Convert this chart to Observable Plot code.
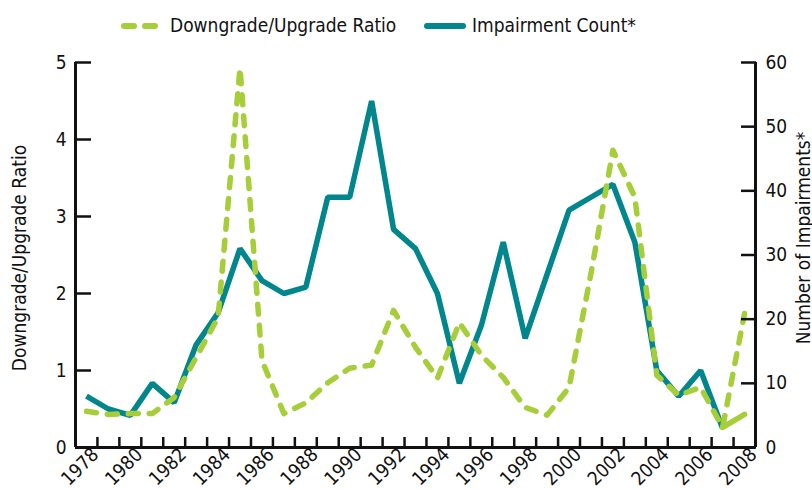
<!DOCTYPE html>
<html>
<head>
<meta charset="utf-8">
<script src="https://cdn.jsdelivr.net/npm/d3@7"></script>
<script src="https://cdn.jsdelivr.net/npm/@observablehq/plot@0.6"></script>
<style>
  body { margin: 0; background: #fff; }
  #wrap { position: relative; width: 812px; height: 489px; font-family: "DejaVu Sans Condensed", "Liberation Sans Narrow", sans-serif; color: #111; }
  #legend { position: relative; height: 45px; font-size: 19px; }
  #legend .txt { position: absolute; top: 12px; line-height: 26px; white-space: nowrap; }
  #legend svg { position: absolute; top: 20px; }
</style>
</head>
<body>
<div id="wrap">
  <div id="legend">
    <svg style="left:120px" width="44" height="12"><line x1="4" x2="40" y1="6" y2="6" stroke="#a6ce39" stroke-width="6" stroke-linecap="round" stroke-dasharray="10,11"/></svg>
    <span class="txt" style="left:170px">Downgrade/Upgrade Ratio</span>
    <svg style="left:423px" width="44" height="12"><line x1="4" x2="40" y1="6" y2="6" stroke="#00868c" stroke-width="6" stroke-linecap="round"/></svg>
    <span class="txt" style="left:472px">Impairment Count*</span>
  </div>
  <div id="chart"></div>
</div>
<script>
// ---- data ----
const years = [1978,1979,1980,1981,1982,1983,1984,1985,1986,1987,1988,1989,1990,1991,1992,1993,1994,1995,1996,1997,1998,1999,2000,2001,2002,2003,2004,2005,2006,2007,2008];
const ratio = [0.47,0.43,0.44,0.44,0.65,1.17,1.69,4.93,1.13,0.44,0.58,0.84,1.03,1.07,1.78,1.30,0.90,1.62,1.20,0.91,0.52,0.42,0.78,2.26,3.86,3.25,0.94,0.68,0.78,0.26,1.74];
const impairments = [8,6,5,10,7,16,21,31,26,24,25,39,39,54,34,31,24,10,19,32,17,27,37,39,41,32,12,8,12,3,null];
const ratioTailYears = [2007, 2008];
const ratioTail = [0.26, 0.43];
const ratioTicks = [0,1,2,3,4,5];
const countTicks = [0,10,20,30,40,50,60];
const yearLabels = ["1978","1980","1982","1984","1986","1988","1990","1992","1994","1996","1998","2000","2002","2004","2006","2008"];
const leftTitle = "Downgrade/Upgrade Ratio";
const rightTitle = "Number of Impairments*";

// ---- derived ----
const ratioMax = ratioTicks[ratioTicks.length - 1];
const countMax = countTicks[countTicks.length - 1];
const k = ratioMax / countMax; // maps counts onto the ratio scale
const boundaries = years.slice(1).map(y => y - 0.5);
const ratioData = years.map((y, i) => ({year: y, v: ratio[i]}));
const countData = years.map((y, i) => ({year: y, v: impairments[i] == null ? NaN : impairments[i] * k}));
const tailData = ratioTailYears.map((y, i) => ({year: y, v: ratioTail[i]}));

const GREEN = "#a6ce39", TEAL = "#00868c", INK = "#111";
const FONT = '"DejaVu Sans Condensed", "Liberation Sans Narrow", sans-serif';
const FS = 19;

const chart = Plot.plot({
  width: 812,
  height: 444,
  marginTop: 17,
  marginBottom: 42,
  marginLeft: 75,
  marginRight: 57,
  x: {type: "linear", domain: [years[0] - 0.5, years[years.length - 1] + 0.5], axis: null},
  y: {domain: [0, ratioMax], axis: null},
  style: {fontFamily: FONT, fontSize: FS + "px", color: INK, background: "#fff", overflow: "visible"},
  marks: [
    // data lines
    Plot.line(countData, {x: "year", y: "v", stroke: TEAL, strokeWidth: 5.5, strokeLinejoin: "miter", strokeLinecap: "butt"}),
    Plot.line(ratioData, {x: "year", y: "v", stroke: GREEN, strokeWidth: 5.5, strokeDasharray: "10,11", strokeLinecap: "round", strokeLinejoin: "round"}),
    Plot.line(tailData, {x: "year", y: "v", stroke: GREEN, strokeWidth: 5.5, strokeLinecap: "round"}),
    // left axis ticks (inward) and labels
    Plot.axisY(ratioTicks, {anchor: "left", tickSize: -16, strokeWidth: 2.5, tickFormat: () => "", label: null}),
    Plot.axisY(ratioTicks, {anchor: "left", tickSize: 0, tickPadding: 9, tickFormat: d => String(d), label: null, fontSize: FS}),
    // right axis (impairment counts)
    Plot.axisY(countTicks.map(c => c * k), {anchor: "right", tickSize: -15, strokeWidth: 2.5, tickFormat: () => "", label: null}),
    Plot.axisY(countTicks.map(c => c * k), {anchor: "right", tickSize: 0, tickPadding: 10, tickFormat: d => String(Math.round(d / k)), label: null, fontSize: FS}),
    // bottom ticks between categories (inward)
    Plot.axisX(boundaries, {anchor: "bottom", tickSize: -10, strokeWidth: 2.5, tickFormat: () => "", label: null}),
    // year labels
    Plot.text(yearLabels, {x: d => +d, text: d => d, frameAnchor: "bottom", rotate: -45, textAnchor: "end", lineAnchor: "middle", dx: 9, dy: 4, fontSize: FS, fill: INK}),
    // axis lines
    Plot.ruleY([0], {stroke: INK, strokeWidth: 3}),
    Plot.ruleX([years[0] - 0.5, years[years.length - 1] + 0.5], {stroke: INK, strokeWidth: 3}),
    // axis titles
    Plot.text([leftTitle], {frameAnchor: "left", textAnchor: "middle", lineAnchor: "middle", rotate: -90, dx: -56, dy: 3, fontSize: FS, fill: INK}),
    Plot.text([rightTitle], {frameAnchor: "right", textAnchor: "middle", lineAnchor: "middle", rotate: -90, dx: 48, dy: -17, fontSize: FS, fill: INK})
  ]
});
document.getElementById("chart").appendChild(chart);
</script>
</body>
</html>
